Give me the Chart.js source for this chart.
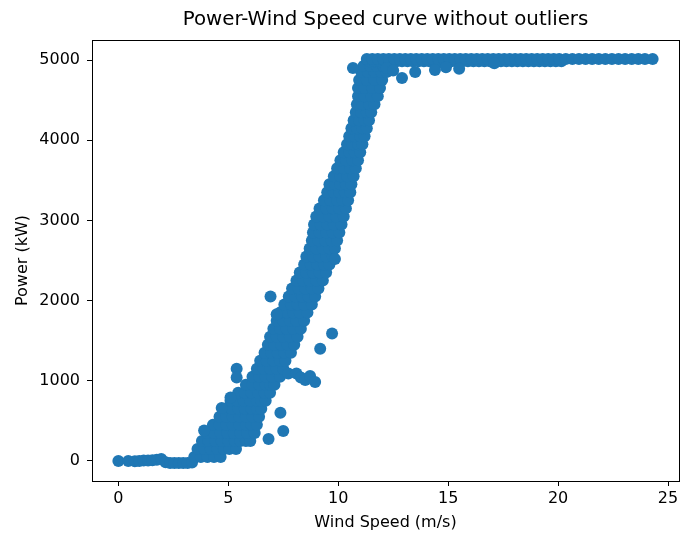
<!DOCTYPE html>
<html>
<head>
<meta charset="utf-8">
<script src="https://cdn.jsdelivr.net/npm/chart.js@4/dist/chart.umd.min.js"></script>
<style>
  html, body { margin: 0; padding: 0; background: #fff; }
</style>
</head>
<body>
<canvas id="my_chart" width="685" height="534"></canvas>
<script>
(function () {
  'use strict';

  const chartTitle = 'Power-Wind Speed curve without outliers';

  // tick labels
  const xTicks = [0, 5, 10, 15, 20, 25];
  const yTicks = [0, 1000, 2000, 3000, 4000, 5000];

  // below cut-in (power ~0)
  const idleWind = [0, 0.45, 0.75, 0.95, 1.15, 1.35, 1.55, 1.75, 1.95, 2.15, 2.35, 2.55, 2.75, 2.95, 3.15, 3.35];
  const idlePower = [0, 0, -5, 0, 5, 5, 10, 15, 25, -15, -25, -25, -25, -25, -25, -20];

  // main band: power level -> wind speeds read at that level
  const bandPower = [
    50, 150, 250, 350, 450, 550, 650, 750, 850, 950,
    1050, 1150, 1250, 1350, 1450, 1550, 1650, 1750, 1850, 1950,
    2050, 2150, 2250, 2350, 2450, 2550, 2650, 2750, 2850, 2950,
    3050, 3150, 3250, 3350, 3450, 3550, 3650, 3750, 3850, 3950,
    4050, 4150, 4250, 4350, 4450, 4550, 4650, 4750, 4850, 4925,
    4985, 5012,
  ];
  const bandWind = [
    [3.45, 3.75, 4.05, 4.35, 4.65],
    [3.6, 3.9, 4.2, 4.5, 4.8, 5.05, 5.35],
    [3.8, 4.1, 4.4, 4.7, 5.0, 5.3, 5.55, 5.8, 6.0],
    [4.05, 4.35, 4.65, 4.95, 5.25, 5.55, 5.85, 6.2],
    [4.3, 4.6, 4.9, 5.2, 5.5, 5.8, 6.05, 6.3],
    [4.6, 4.9, 5.2, 5.5, 5.8, 6.1, 6.4],
    [4.85, 5.15, 5.45, 5.75, 6.05, 6.3, 6.5],
    [5.1, 5.4, 5.7, 6.0, 6.3, 6.5, 6.7],
    [5.45, 5.75, 6.05, 6.35, 6.65, 6.9],
    [5.8, 6.1, 6.4, 6.7, 6.9, 7.1],
    [6.1, 6.4, 6.7, 7.0, 7.35],
    [6.3, 6.6, 6.9, 7.2, 7.5],
    [6.45, 6.75, 7.05, 7.35, 7.6],
    [6.65, 6.95, 7.25, 7.55, 7.85],
    [6.8, 7.1, 7.4, 7.7, 8.0],
    [6.9, 7.2, 7.5, 7.8, 8.15],
    [7.05, 7.35, 7.65, 7.95, 8.3],
    [7.2, 7.5, 7.8, 8.1, 8.45],
    [7.35, 7.65, 7.95, 8.25, 8.6],
    [7.55, 7.85, 8.15, 8.45, 8.8],
    [7.75, 8.05, 8.35, 8.65, 8.95],
    [7.9, 8.2, 8.5, 8.8, 9.1],
    [8.1, 8.4, 8.7, 9.0, 9.3],
    [8.25, 8.55, 8.85, 9.15, 9.45],
    [8.45, 8.75, 9.05, 9.35, 9.6],
    [8.55, 8.85, 9.15, 9.45, 9.75],
    [8.7, 9.0, 9.3, 9.6, 9.85],
    [8.8, 9.1, 9.4, 9.7, 9.95],
    [8.85, 9.15, 9.45, 9.75, 10.05],
    [8.9, 9.2, 9.5, 9.8, 10.15],
    [9.0, 9.3, 9.6, 9.9, 10.25],
    [9.15, 9.45, 9.75, 10.05, 10.35],
    [9.35, 9.65, 9.95, 10.2, 10.45],
    [9.5, 9.8, 10.05, 10.3, 10.55],
    [9.6, 9.85, 10.1, 10.35, 10.6],
    [9.8, 10.1, 10.4, 10.7],
    [9.95, 10.25, 10.55, 10.8],
    [10.1, 10.35, 10.65, 10.9],
    [10.25, 10.5, 10.75, 11.0],
    [10.4, 10.65, 10.9, 11.1],
    [10.5, 10.75, 11.0, 11.2],
    [10.6, 10.85, 11.1, 11.3],
    [10.7, 10.95, 11.2, 11.4],
    [10.8, 11.05, 11.3, 11.5],
    [10.85, 11.1, 11.4, 11.65],
    [10.9, 11.2, 11.5, 11.8],
    [10.9, 11.2, 11.55, 11.9],
    [10.95, 11.3, 11.65, 12.0],
    [11.05, 11.35, 11.65, 11.95, 12.2],
    [11.15, 11.45, 11.75, 12.05, 12.4],
    [11.4, 11.65, 11.9, 12.15, 12.4, 12.65, 12.9, 13.15, 13.4, 13.65, 13.9, 14.15, 14.4, 14.65, 14.9,
      15.15, 15.4, 15.65, 15.9, 16.15, 16.4, 16.65, 16.9, 17.15, 17.4, 17.65, 17.9, 18.15, 18.4, 18.65,
      18.9, 19.15, 19.4, 19.65, 19.9, 20.15],
    [11.3, 11.55, 11.8, 12.05, 12.3, 12.55, 12.8, 13.05, 13.3, 13.55, 13.8, 14.05, 14.3, 14.55, 14.8,
      15.05, 15.3, 15.55, 15.8, 16.05, 16.3, 16.55, 16.8, 17.05, 17.3, 17.55, 17.8, 18.05, 18.3, 18.55,
      18.8, 19.05, 19.3, 19.55, 19.8, 20.05, 20.35, 20.65, 20.95, 21.25, 21.55, 21.85, 22.15, 22.45,
      22.75, 23.05, 23.35, 23.65, 23.95, 24.3],
  ];

  // loose points around the band
  const strayWind = [10.67, 12.2, 12.5, 12.9, 13.5, 14.4, 14.9, 15.5, 17.1,
    6.92, 9.85, 9.72, 9.18, 7.2, 5.38, 5.38,
    7.73, 8.1, 8.3, 8.5, 8.72, 8.95, 5.1, 4.7, 7.37, 7.5, 3.9, 6.83];
  const strayPower = [4900, 4900, 4870, 4775, 4850, 4875, 4910, 4890, 4960,
    2050, 2520, 1590, 1400, 1830, 1150, 1040,
    1090, 1090, 1040, 1010, 1060, 985, 790, 660, 600, 375, 380, 275];

  // -> {x, y}
  const points = [];
  for (let i = 0; i < idleWind.length; i++) {
    points.push({ x: idleWind[i], y: idlePower[i] });
  }
  for (let i = 0; i < bandPower.length; i++) {
    for (let j = 0; j < bandWind[i].length; j++) {
      points.push({ x: bandWind[i][j], y: bandPower[i] });
    }
  }
  for (let i = 0; i < strayWind.length; i++) {
    points.push({ x: strayWind[i], y: strayPower[i] });
  }

  const font = { family: 'DejaVu Sans', size: 16, weight: 'normal' };

  // box around the plot area + title centred over the axes (matplotlib style)
  const frame = {
    id: 'frame',
    afterDatasetsDraw(chart) {
      const a = chart.chartArea;
      const c = chart.ctx;
      c.save();
      c.strokeStyle = '#000';
      c.lineWidth = 1;
      c.strokeRect(Math.round(a.left) + 0.5, Math.round(a.top) + 0.5,
        Math.round(a.right - a.left), Math.round(a.bottom - a.top));
      c.fillStyle = '#000';
      c.font = '19.8px "DejaVu Sans"';
      c.textAlign = 'center';
      c.textBaseline = 'middle';
      c.fillText(chartTitle, (a.left + a.right) / 2, 20);
      c.restore();
    }
  };

  const ctx = document.getElementById('my_chart').getContext('2d');

  new Chart(ctx, {
    type: 'scatter',
    data: {
      datasets: [{
        data: points,
        backgroundColor: '#1f77b4',
        borderWidth: 0,
        pointRadius: 6,
        pointHoverRadius: 6,
      }]
    },
    options: {
      responsive: false,
      devicePixelRatio: 1,
      animation: false,
      events: [],
      layout: { padding: { left: 0, right: -5, top: 40, bottom: 0 } },
      plugins: {
        legend: { display: false },
        tooltip: { enabled: false },
        title: { display: false },
      },
      scales: {
        x: {
          type: 'linear',
          min: -1.2,
          max: 25.5,
          afterFit: function (s) { s.height = 53; s.paddingLeft = 0; s.paddingRight = 0; },
          afterBuildTicks: function (s) { s.ticks = xTicks.map(v => ({ value: v })); },
          grid: { drawOnChartArea: false, drawTicks: true, tickLength: 5, color: '#000' },
          border: { display: false },
          ticks: { color: '#000', font: font, padding: 3, maxRotation: 0 },
          title: {
            display: true, text: 'Wind Speed (m/s)', color: '#000', font: font,
            padding: { top: 0, bottom: 2 },
          },
        },
        y: {
          type: 'linear',
          min: -250,
          max: 5250,
          afterFit: function (s) { s.width = 92; s.paddingTop = 0; s.paddingBottom = 0; },
          afterBuildTicks: function (s) { s.ticks = yTicks.map(v => ({ value: v })); },
          grid: { drawOnChartArea: false, drawTicks: true, tickLength: 5, color: '#000' },
          border: { display: false },
          ticks: {
            color: '#000', font: font, padding: 7,
            callback: function (value) { return String(value); },
          },
          title: {
            display: true, text: 'Power (kW)', color: '#000', font: font,
            padding: { top: 13, bottom: 0 },
          },
        },
      },
    },
    plugins: [frame],
  });

})();
</script>
</body>
</html>
